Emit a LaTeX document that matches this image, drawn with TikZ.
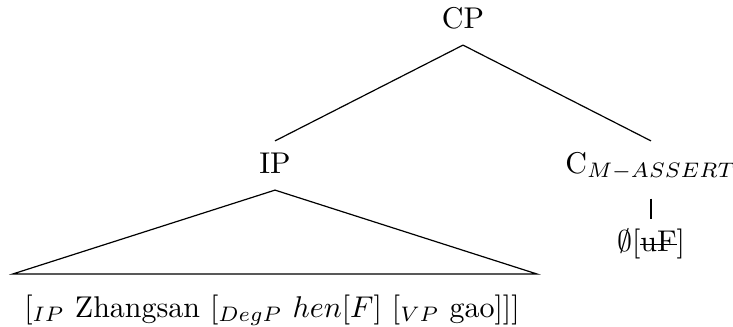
\documentclass[tikz,border=0pt]{standalone}
\usepackage{amsmath, amssymb}
\usepackage{tikz}
\usetikzlibrary{positioning}

% struck-through feature
\newcommand{\struckfeat}[1]{\sbox0{#1}\rlap{\rule[2.1pt]{\wd0}{0.4pt}}\usebox0}

\begin{document}
\begin{tikzpicture}[
            x=0.3333pt, y=-0.3333pt,
            cat/.style={anchor=base, inner xsep=0pt, inner ysep=3pt, text height=7.5pt, text depth=2.5pt},
            branch/.style={line width=0.4pt}
        ]
            \useasboundingbox (0,0) rectangle (733,326);

            % Categories
            \node[cat] (cp) at (463, 28) {CP};
            \node[cat] (ip) at (275, 173) {IP};
            \node[cat, text depth=5.3pt] (c) at (651, 173) {C$_{M-ASSERT}$};
            \node[cat] (null) at (651, 251) {$\emptyset$[\struckfeat{uF}]};

            % Terminal string under IP
            \node[cat] (str) at (272, 317) {$[_{IP}$ Zhangsan $[_{DegP}$ $hen[F]$ $[_{VP}$ gao]]]};

            % Roof corners
            \coordinate (roofl) at (12.7, 274);
            \coordinate (roofr) at (537, 274);

            % Branches
            \draw[branch] (cp.south) -- (ip.north);
            \draw[branch] (cp.south) -- (c.north);
            \draw[branch] (c.south) -- (null.north);

            % Roof over IP
            \draw[branch] (roofl) -- (ip.south) -- (roofr) -- cycle;
        \end{tikzpicture}
\end{document}
